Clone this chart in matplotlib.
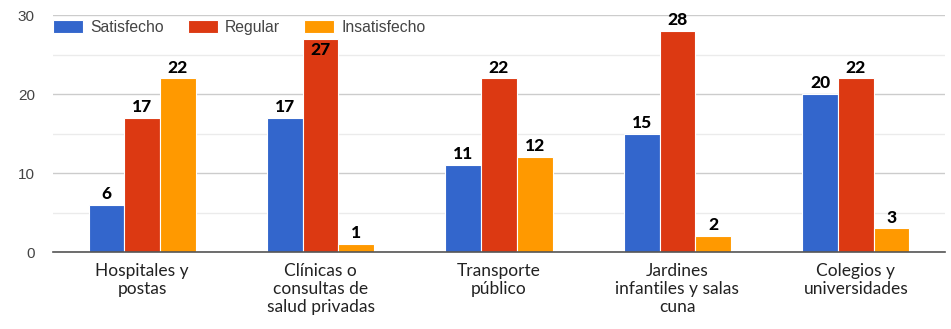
import matplotlib
matplotlib.use("Agg")
import matplotlib.pyplot as plt
import numpy as np

categories = [
    "Hospitales y\npostas",
    "Clínicas o\nconsultas de\nsalud privadas",
    "Transporte\npúblico",
    "Jardines\ninfantiles y salas\ncuna",
    "Colegios y\nuniversidades",
]
series_names = ["Satisfecho", "Regular", "Insatisfecho"]
satisfecho = [6, 17, 11, 15, 20]
regular = [17, 27, 22, 28, 22]
insatisfecho = [22, 1, 12, 2, 3]
y_ticks = [0, 10, 20, 30]

colors = ["#3366CC", "#DC3912", "#FF9900"]

fig = plt.figure(figsize=(9.51, 3.29), dpi=100)
ax = fig.add_axes([0.0557, 0.234, 0.938, 0.720])

x = np.arange(len(categories))
width = 0.2
offsets = [-width, 0, width]
labels = []
for vals, name, col, off in zip([satisfecho, regular, insatisfecho], series_names, colors, offsets):
    bars = ax.bar(x + off, vals, width, color=col, edgecolor="white", linewidth=0.8,
                  label=name, zorder=3)
    for b, v in zip(bars, vals):
        t = ax.text(b.get_x() + b.get_width() / 2, v + 0.35, str(v), ha="center", va="bottom",
                    fontsize=12.5, fontweight="black", family="Lato", color="black", zorder=4)
        labels.append((t, v))

ax.set_xlim(-0.5, len(categories) - 0.5)
ax.set_ylim(0, 30)
ax.set_yticks(y_ticks)
ax.set_yticks([5, 15, 25], minor=True)
ax.set_yticklabels([str(t) for t in y_ticks], family="Liberation Sans", fontsize=11, color="#444444")
ax.grid(axis="y", which="major", color="#cccccc", linewidth=1, zorder=0)
ax.grid(axis="y", which="minor", color="#ebebeb", linewidth=1, zorder=0)
ax.tick_params(axis="y", which="both", length=0, pad=13)
ax.tick_params(axis="x", length=0, pad=8)
ax.set_xticks(x)
ax.set_xticklabels(categories, family="Lato", fontsize=12.5, color="#222222", linespacing=1.15)
for s in ["top", "right", "left"]:
    ax.spines[s].set_visible(False)
ax.spines["bottom"].set_color("#555555")
ax.spines["bottom"].set_linewidth(1.2)
ax.spines["bottom"].set_zorder(5)

leg = ax.legend(loc="upper left", bbox_to_anchor=(-0.007, 1.008), ncol=3, frameon=False,
                prop={"family": "Liberation Sans", "size": 11.3}, handlelength=1.9, handleheight=0.9,
                columnspacing=1.55, handletextpad=0.45, borderaxespad=0)
for t in leg.get_texts():
    t.set_color("#444444")

# Value labels that would run into the legend are placed inside the bar top instead
fig.canvas.draw()
renderer = fig.canvas.get_renderer()
leg_box = leg.get_window_extent(renderer)
for t, v in labels:
    if t.get_window_extent(renderer).overlaps(leg_box):
        t.set_y(v - 0.4)
        t.set_va("top")

fig.savefig("out.png", dpi=100, facecolor="white")
